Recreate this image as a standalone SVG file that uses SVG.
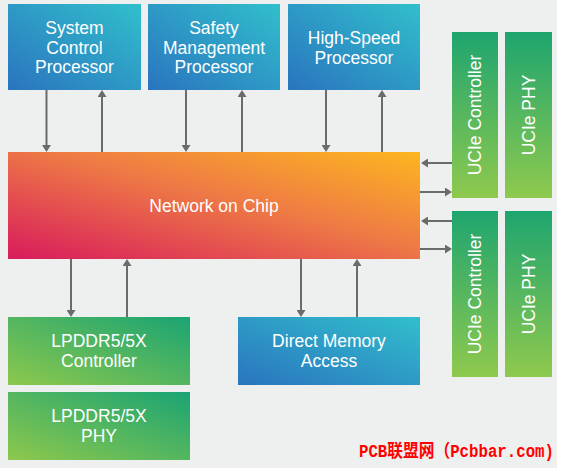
<svg xmlns="http://www.w3.org/2000/svg" width="561" height="468" viewBox="0 0 561 468">
<defs>
<linearGradient id="gBlue" x1="0" y1="1" x2="1" y2="0">
<stop offset="0" stop-color="#2a74bf"/>
<stop offset="1" stop-color="#31bfcc"/>
</linearGradient>
<linearGradient id="gGreen" x1="0" y1="1" x2="1" y2="0">
<stop offset="0" stop-color="#8dc84c"/>
<stop offset="1" stop-color="#1aa473"/>
</linearGradient>
<linearGradient id="gGreenV" x1="0" y1="0" x2="0" y2="1">
<stop offset="0" stop-color="#1ea56f"/>
<stop offset="1" stop-color="#8fc94e"/>
</linearGradient>
<linearGradient id="gNoc" x1="0" y1="1" x2="1" y2="0" gradientUnits="userSpaceOnUse" gradientTransform="translate(8,152) scale(412,107)">
<stop offset="0" stop-color="#d81b5c"/>
<stop offset="0.55" stop-color="#ee7a45"/>
<stop offset="1" stop-color="#fdb61f"/>
</linearGradient>
<marker id="ah" viewBox="0 0 7 9" refX="0" refY="4.5" markerWidth="7" markerHeight="9" markerUnits="userSpaceOnUse" orient="auto">
<path d="M0,0 L7,4.5 L0,9 z" fill="#6b6b6b"/>
</marker>
<style>
.lbl{font-family:"Liberation Sans","Noto Sans",sans-serif;font-size:17.5px;fill:#ffffff;text-anchor:middle}
.conn line{stroke:#6b6b6b;stroke-width:2;marker-end:url(#ah)}
.wm{font-family:"Liberation Mono","Noto Sans CJK SC",monospace;font-size:18px;font-weight:bold;fill:#ff0000}
</style>
</defs>
<rect x="0" y="0" width="561" height="468" fill="#eef0ef"/>
<rect x="557" y="0" width="4" height="468" fill="#ffffff"/>

<g id="scp">
<rect x="8" y="4" width="133" height="86" fill="url(#gBlue)"/>
<text class="lbl" x="74.5" y="34">System</text>
<text class="lbl" x="74.5" y="53.5">Control</text>
<text class="lbl" x="74.5" y="73">Processor</text>
</g>
<g id="smp">
<rect x="148" y="4" width="132" height="86" fill="url(#gBlue)"/>
<text class="lbl" x="214" y="34">Safety</text>
<text class="lbl" x="214" y="53.5">Management</text>
<text class="lbl" x="214" y="73">Processor</text>
</g>
<g id="hsp">
<rect x="288" y="4" width="132" height="86" fill="url(#gBlue)"/>
<text class="lbl" x="354" y="44">High-Speed</text>
<text class="lbl" x="354" y="63.5">Processor</text>
</g>
<g id="noc">
<rect x="8" y="152" width="412" height="107" fill="url(#gNoc)"/>
<text class="lbl" x="214" y="212">Network on Chip</text>
</g>
<g id="ucie-ctrl-1">
<rect x="452" y="32" width="46" height="166" fill="url(#gGreenV)"/>
<text class="lbl" transform="translate(481,115) rotate(-90)">UCIe Controller</text>
</g>
<g id="ucie-phy-1">
<rect x="505" y="32" width="47" height="166" fill="url(#gGreenV)"/>
<text class="lbl" transform="translate(534.5,115) rotate(-90)">UCIe PHY</text>
</g>
<g id="ucie-ctrl-2">
<rect x="452" y="211" width="46" height="166" fill="url(#gGreenV)"/>
<text class="lbl" transform="translate(481,294) rotate(-90)">UCIe Controller</text>
</g>
<g id="ucie-phy-2">
<rect x="505" y="211" width="47" height="166" fill="url(#gGreenV)"/>
<text class="lbl" transform="translate(534.5,294) rotate(-90)">UCIe PHY</text>
</g>
<g id="lpddr-ctrl">
<rect x="8" y="317" width="182" height="68" fill="url(#gGreen)"/>
<text class="lbl" x="99" y="347">LPDDR5/5X</text>
<text class="lbl" x="99" y="366.5">Controller</text>
</g>
<g id="lpddr-phy">
<rect x="8" y="392" width="182" height="68" fill="url(#gGreen)"/>
<text class="lbl" x="99" y="422">LPDDR5/5X</text>
<text class="lbl" x="99" y="441.5">PHY</text>
</g>
<g id="dma">
<rect x="238" y="317" width="182" height="68" fill="url(#gBlue)"/>
<text class="lbl" x="329" y="347">Direct Memory</text>
<text class="lbl" x="329" y="366.5">Access</text>
</g>

<g id="connectors" class="conn">
<line x1="46.5" y1="90" x2="46.5" y2="145"/>
<line x1="102" y1="152" x2="102" y2="97"/>
<line x1="186" y1="90" x2="186" y2="145"/>
<line x1="242" y1="152" x2="242" y2="97"/>
<line x1="326" y1="90" x2="326" y2="145"/>
<line x1="382" y1="152" x2="382" y2="97"/>
<line x1="71" y1="259" x2="71" y2="310"/>
<line x1="127" y1="317" x2="127" y2="266"/>
<line x1="301" y1="259" x2="301" y2="310"/>
<line x1="357" y1="317" x2="357" y2="266"/>
<line x1="452" y1="163" x2="428" y2="163"/>
<line x1="420" y1="192" x2="445" y2="192"/>
<line x1="452" y1="221" x2="428" y2="221"/>
<line x1="420" y1="249" x2="445" y2="249"/>
</g>

<text class="wm" transform="translate(359,457) scale(0.874,1)">PCB联盟网（Pcbbar.com)</text>
</svg>
